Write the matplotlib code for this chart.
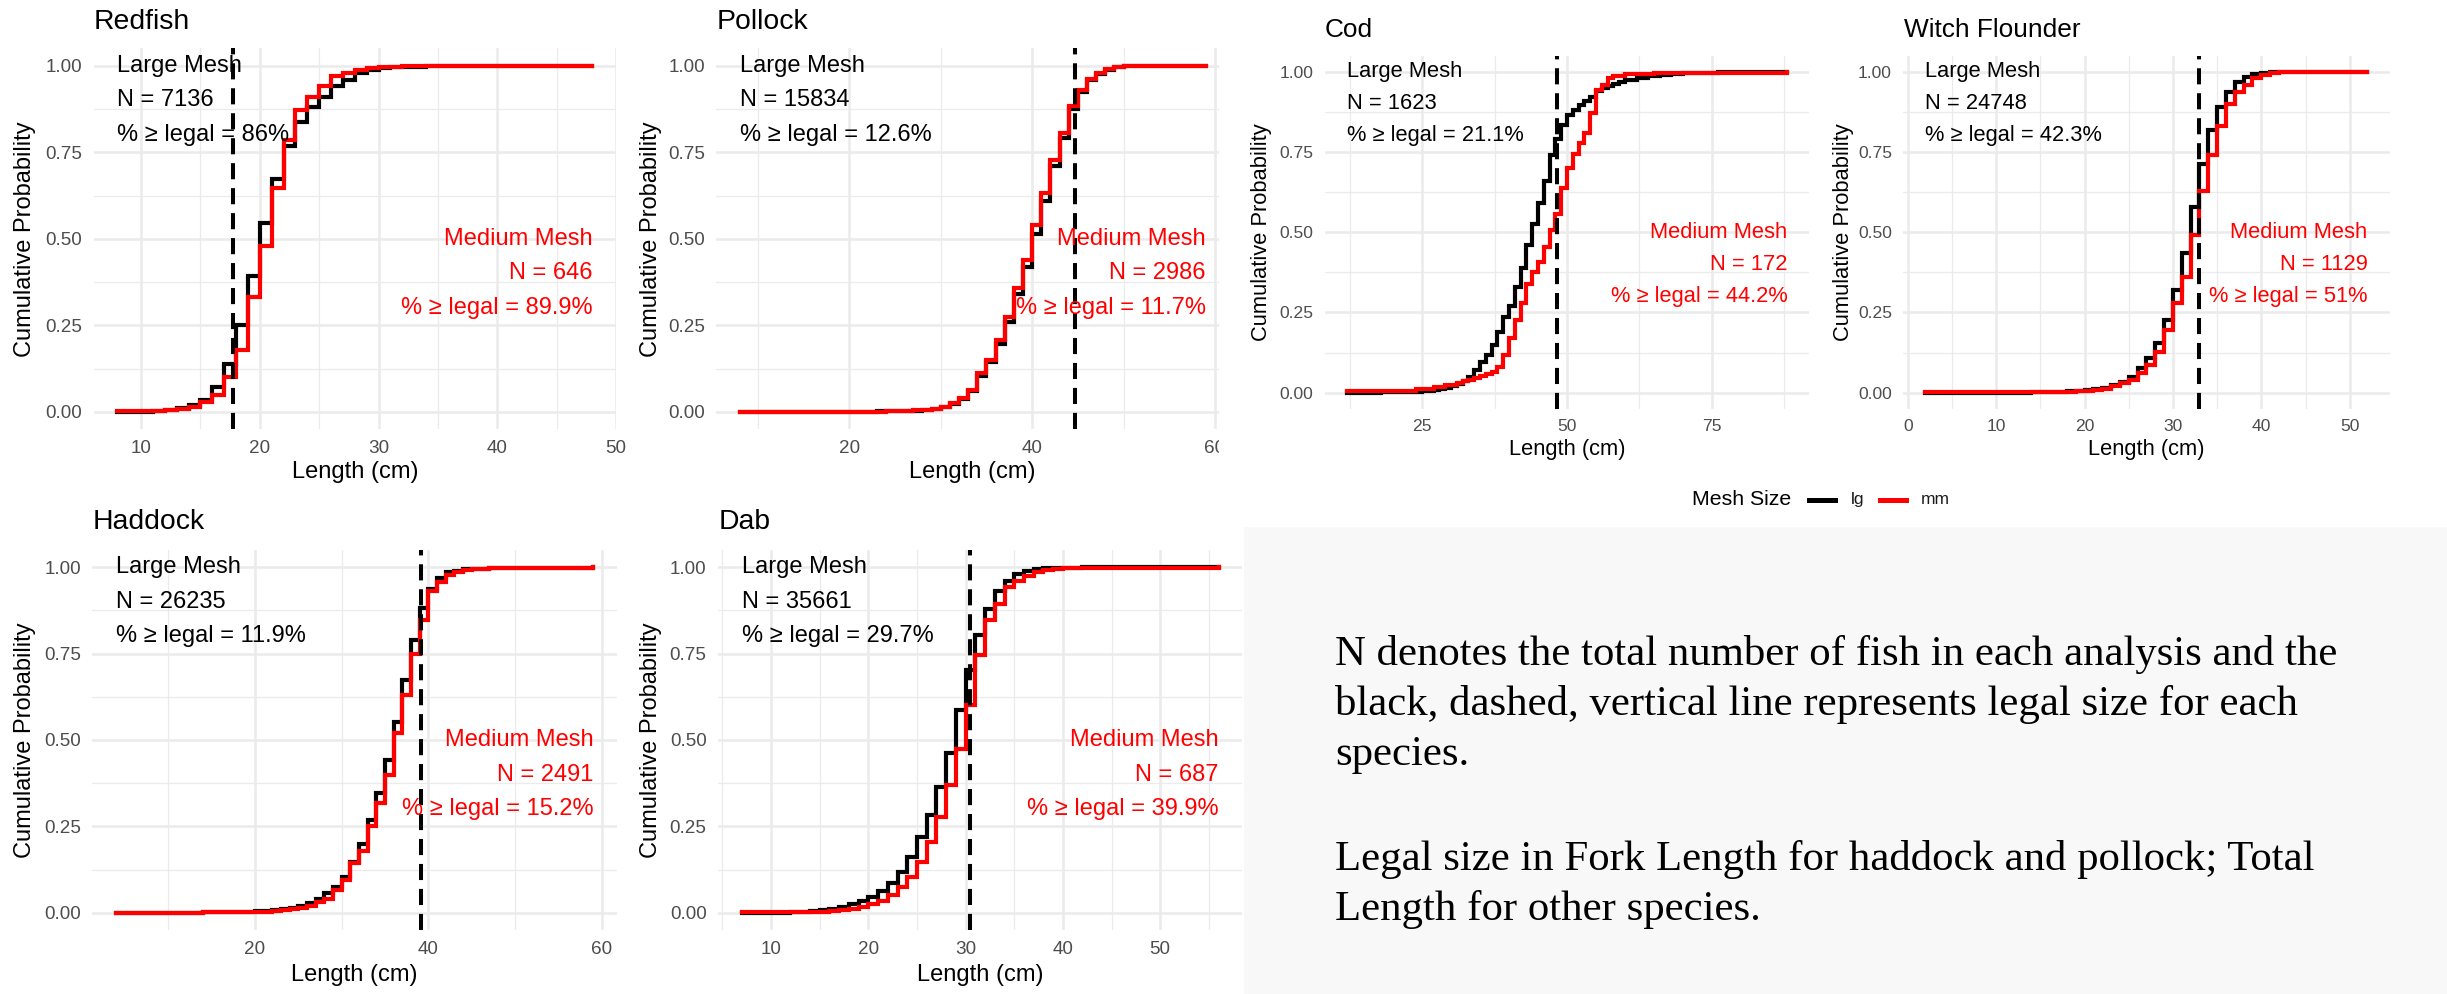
import numpy as np
import matplotlib
matplotlib.use('Agg')
import matplotlib.pyplot as plt
from matplotlib.patches import Rectangle
from matplotlib.lines import Line2D

plt.rcParams['font.family'] = ['Liberation Sans', 'DejaVu Sans']

# ECDF steps: length (cm) and cumulative probability
redfish_lg_len = [8, 10, 11, 12, 13, 14, 15, 16, 17, 18, 19, 20, 21, 22, 23, 24, 25, 26, 27, 28, 29, 30, 31, 32, 34, 36, 40, 48]
redfish_lg_cum = [0.0005, 0.001, 0.003, 0.006, 0.012, 0.02, 0.035, 0.073, 0.14, 0.25, 0.393, 0.545, 0.672, 0.768, 0.838,
                  0.882, 0.91, 0.94, 0.96, 0.978, 0.987, 0.992, 0.995, 0.997, 0.998, 0.999, 0.9995, 1.0]
redfish_mm_len = [8, 11, 12, 13, 14, 15, 16, 17, 18, 19, 20, 21, 22, 23, 24, 25, 26, 27, 28, 29, 30, 32, 48]
redfish_mm_cum = [0.0015, 0.003, 0.005, 0.008, 0.015, 0.03, 0.05, 0.101, 0.179, 0.333, 0.479, 0.646, 0.785, 0.872,
                  0.91, 0.94, 0.97, 0.98, 0.988, 0.994, 0.997, 0.9985, 1.0]

pollock_lg_len = [8, 15, 20, 23, 25, 26, 27, 28, 29, 30, 31, 32, 33, 34, 35, 36, 37, 38, 39, 40, 41, 42, 43, 44, 45, 46,
                  47, 48, 49, 50, 52, 55, 59]
pollock_lg_cum = [0.0001, 0.0005, 0.001, 0.0015, 0.002, 0.003, 0.004, 0.006, 0.009, 0.014, 0.022, 0.037, 0.06, 0.105,
                  0.145, 0.195, 0.26, 0.34, 0.42, 0.515, 0.61, 0.71, 0.79, 0.874, 0.925, 0.96, 0.976, 0.988, 0.995,
                  0.998, 0.999, 0.9995, 1.0]
pollock_mm_len = [8, 20, 24, 26, 27, 28, 29, 30, 31, 32, 33, 34, 35, 36, 37, 38, 39, 40, 41, 42, 43, 44, 45, 46, 47, 48,
                  49, 50, 52, 59]
pollock_mm_cum = [0.0003, 0.001, 0.002, 0.003, 0.005, 0.007, 0.01, 0.015, 0.025, 0.039, 0.064, 0.112, 0.15, 0.208,
                  0.275, 0.357, 0.439, 0.54, 0.631, 0.728, 0.805, 0.883, 0.93, 0.963, 0.978, 0.99, 0.997, 0.999,
                  0.9995, 1.0]

cod_lg_len = [12, 18, 22, 24, 25, 26, 27, 28, 29, 30, 31, 32, 33, 34, 35, 36, 37, 38, 39, 40, 41, 42, 43, 44, 45, 46, 47,
              48, 49, 50, 51, 52, 53, 54, 55, 56, 57, 58, 59, 60, 62, 64, 66, 68, 70, 73, 76, 80, 88]
cod_lg_cum = [0.0006, 0.001, 0.002, 0.003, 0.004, 0.005, 0.007, 0.01, 0.014, 0.02, 0.028, 0.038, 0.05, 0.07, 0.095,
              0.117, 0.15, 0.19, 0.235, 0.27, 0.33, 0.39, 0.46, 0.527, 0.59, 0.66, 0.74, 0.789, 0.835, 0.865, 0.88,
              0.896, 0.91, 0.92, 0.94, 0.95, 0.957, 0.963, 0.968, 0.973, 0.98, 0.986, 0.99, 0.993, 0.995, 0.997, 0.998,
              0.999, 1.0]
cod_mm_len = [12, 24, 27, 29, 31, 32, 33, 34, 35, 36, 37, 38, 39, 40, 41, 42, 43, 44, 45, 46, 47, 48, 49, 50, 51, 52, 53,
              54, 55, 56, 57, 58, 60, 65, 88]
cod_mm_cum = [0.006, 0.012, 0.017, 0.023, 0.029, 0.035, 0.041, 0.047, 0.052, 0.058, 0.064, 0.081, 0.117, 0.17, 0.226,
              0.28, 0.34, 0.377, 0.408, 0.455, 0.507, 0.558, 0.637, 0.70, 0.745, 0.777, 0.81, 0.87, 0.943, 0.96, 0.98,
              0.988, 0.994, 0.997, 1.0]

witch_lg_len = [2, 8, 12, 14, 15, 16, 17, 18, 19, 20, 21, 22, 23, 24, 25, 26, 27, 28, 29, 30, 31, 32, 33, 34, 35, 36, 37,
                38, 39, 40, 41, 42, 44, 47, 52]
witch_lg_cum = [0.0001, 0.0003, 0.0006, 0.001, 0.0015, 0.002, 0.003, 0.004, 0.006, 0.008, 0.011, 0.016, 0.024, 0.034,
                0.05, 0.076, 0.107, 0.154, 0.226, 0.32, 0.434, 0.577, 0.714, 0.818, 0.89, 0.938, 0.969, 0.984, 0.992,
                0.996, 0.998, 0.999, 0.9995, 0.9998, 1.0]
witch_mm_len = [2, 12, 15, 17, 18, 19, 20, 21, 22, 23, 24, 25, 26, 27, 28, 29, 30, 31, 32, 33, 34, 35, 36, 37, 38, 39, 40,
                41, 42, 44, 52]
witch_mm_cum = [0.0009, 0.001, 0.0015, 0.002, 0.003, 0.004, 0.006, 0.009, 0.013, 0.02, 0.03, 0.04, 0.06, 0.086, 0.128,
                0.195, 0.278, 0.36, 0.49, 0.628, 0.74, 0.83, 0.90, 0.938, 0.958, 0.98, 0.99, 0.995, 0.998, 0.999, 1.0]

haddock_lg_len = [4, 10, 14, 17, 19, 20, 21, 22, 23, 24, 25, 26, 27, 28, 29, 30, 31, 32, 33, 34, 35, 36, 37, 38, 39, 40,
                  41, 42, 43, 44, 45, 47, 50, 59]
haddock_lg_cum = [0.0001, 0.0005, 0.001, 0.002, 0.003, 0.004, 0.005, 0.007, 0.01, 0.014, 0.02, 0.029, 0.041, 0.056,
                  0.075, 0.104, 0.148, 0.20, 0.268, 0.346, 0.442, 0.553, 0.674, 0.79, 0.881, 0.936, 0.968, 0.985, 0.99,
                  0.994, 0.996, 0.998, 0.999, 1.0]
haddock_mm_len = [4, 14, 18, 21, 22, 23, 24, 25, 26, 27, 28, 29, 30, 31, 32, 33, 34, 35, 36, 37, 38, 39, 40, 41, 42, 43,
                  44, 45, 47, 50, 59]
haddock_mm_cum = [0.0004, 0.001, 0.002, 0.003, 0.005, 0.007, 0.01, 0.014, 0.02, 0.03, 0.04, 0.066, 0.095, 0.143, 0.18,
                  0.25, 0.317, 0.40, 0.52, 0.63, 0.75, 0.848, 0.93, 0.958, 0.978, 0.987, 0.992, 0.995, 0.998, 0.999,
                  1.0]

dab_lg_len = [7, 10, 12, 13, 14, 15, 16, 17, 18, 19, 20, 21, 22, 23, 24, 25, 26, 27, 28, 29, 30, 31, 32, 33, 34, 35, 36,
              37, 38, 39, 40, 42, 45, 56]
dab_lg_cum = [0.0001, 0.0005, 0.001, 0.002, 0.004, 0.007, 0.01, 0.016, 0.024, 0.035, 0.046, 0.064, 0.085, 0.119, 0.16,
              0.218, 0.283, 0.363, 0.461, 0.587, 0.703, 0.804, 0.878, 0.93, 0.961, 0.981, 0.99, 0.994, 0.997, 0.998,
              0.999, 0.9995, 0.9998, 1.0]
dab_mm_len = [7, 12, 14, 16, 17, 18, 19, 20, 21, 22, 23, 24, 25, 26, 27, 28, 29, 30, 31, 32, 33, 34, 35, 36, 37, 38, 39,
              40, 42, 56]
dab_mm_cum = [0.0015, 0.002, 0.003, 0.005, 0.008, 0.012, 0.017, 0.025, 0.035, 0.051, 0.075, 0.104, 0.148, 0.206, 0.278,
              0.37, 0.473, 0.601, 0.746, 0.846, 0.894, 0.942, 0.96, 0.976, 0.986, 0.992, 0.996, 0.998, 0.999, 1.0]

species = ['Redfish', 'Pollock', 'Cod', 'Witch Flounder', 'Haddock', 'Dab']
legal_size = [17.78, 44.7, 48.26, 33.0, 39.2, 30.48]
n_lg = [7136, 15834, 1623, 24748, 26235, 35661]
n_mm = [646, 2986, 172, 1129, 2491, 687]
pct_lg = ['86%', '12.6%', '21.1%', '42.3%', '11.9%', '29.7%']
pct_mm = ['89.9%', '11.7%', '44.2%', '51%', '15.2%', '39.9%']
x_breaks = [[10, 20, 30, 40, 50], [20, 40, 60], [25, 50, 75], [0, 10, 20, 30, 40, 50], [20, 40, 60],
            [10, 20, 30, 40, 50]]
y_breaks = [0, 0.25, 0.5, 0.75, 1.0]

curves = [(redfish_lg_len, redfish_lg_cum, redfish_mm_len, redfish_mm_cum),
          (pollock_lg_len, pollock_lg_cum, pollock_mm_len, pollock_mm_cum),
          (cod_lg_len, cod_lg_cum, cod_mm_len, cod_mm_cum),
          (witch_lg_len, witch_lg_cum, witch_mm_len, witch_mm_cum),
          (haddock_lg_len, haddock_lg_cum, haddock_mm_len, haddock_mm_cum),
          (dab_lg_len, dab_lg_cum, dab_mm_len, dab_mm_cum)]

note_lines = ['N denotes the total number of fish in each analysis and the',
              'black, dashed, vertical line represents legal size for each',
              'species.',
              'Legal size in Fork Length for haddock and pollock; Total',
              'Length for other species.']

# layout in pixels: panel box (left, right, top, bottom), title y, ylabel x, xlabel y, font scale
W, H = 2447, 994
layout = [
    dict(box=(93.5, 616.2, 48.4, 429.3), ty=21.7, ylx=25, xly=472, s=1.0),
    dict(box=(716.2, 1229.2, 48.4, 429.3), ty=21.7, ylx=650.6, xly=472, s=1.0),
    dict(box=(1324.6, 1809.4, 55.65, 408.75), ty=30, ylx=1262, xly=450, s=0.925),
    dict(box=(1903.3, 2389.5, 55.65, 408.75), ty=30, ylx=1844, xly=450, s=0.925),
    dict(box=(92.3, 617.1, 550, 930), ty=521.7, ylx=25.3, xly=975, s=1.0),
    dict(box=(718.0, 1242.4, 550, 930), ty=521.7, ylx=650.6, xly=975, s=1.0),
]

fig = plt.figure(figsize=(W / 100, H / 100), dpi=100)
fig.patch.set_facecolor('white')

# grey note area
fig.add_artist(Rectangle((1244 / W, 0), (W - 1244) / W, (H - 527) / H, transform=fig.transFigure,
                         facecolor='#f8f8f8', edgecolor='none', zorder=-1))

for i, name in enumerate(species):
    lay = layout[i]
    x0, x1, yt, yb = lay['box']
    s = lay['s']
    ax = fig.add_axes([x0 / W, 1 - yb / H, (x1 - x0) / W, (yb - yt) / H])
    lg_len, lg_cum, mm_len, mm_cum = curves[i]
    lo = min(lg_len[0], mm_len[0])
    hi = max(lg_len[-1], mm_len[-1])
    pad = 0.05 * (hi - lo)
    ax.set_xlim(lo - pad, hi + pad)
    ax.set_ylim(-0.05, 1.05)

    ax.step(lg_len, lg_cum, where='post', color='black', lw=3.0, solid_joinstyle='miter', zorder=3)
    ax.step(mm_len, mm_cum, where='post', color='#ff0000', lw=3.0, solid_joinstyle='miter', zorder=4)
    ax.axvline(legal_size[i], color='black', lw=2.9, linestyle=(0, (4, 2.2)), zorder=5)

    xb = x_breaks[i]
    step = xb[1] - xb[0]
    minor_x = [b + step / 2 for b in [xb[0] - step] + xb]
    ax.set_xticks(xb)
    ax.set_xticks([m for m in minor_x if lo - pad <= m <= hi + pad], minor=True)
    ax.set_yticks(y_breaks)
    ax.set_yticks([0.125, 0.375, 0.625, 0.875], minor=True)
    ax.set_yticklabels(['%.2f' % v for v in y_breaks])
    ax.tick_params(which='both', length=0, labelsize=13.6 * s, labelcolor='#4d4d4d')
    ax.tick_params(axis='x', pad=7.7)
    ax.tick_params(axis='y', pad=8.2)
    ax.grid(which='major', color='#ebebeb', lw=1.8)
    ax.grid(which='minor', color='#ebebeb', lw=0.9)
    ax.set_axisbelow(True)
    for sp in ax.spines.values():
        sp.set_visible(False)

    ax.set_xlabel('Length (cm)', fontsize=17 * s)
    ax.set_ylabel('Cumulative Probability', fontsize=17 * s)
    ax.xaxis.set_label_coords(0.5, -(lay['xly'] - yb) / (yb - yt))
    ax.xaxis.label.set_va('center')
    ax.yaxis.set_label_coords((lay['ylx'] - x0) / (x1 - x0), 0.5)
    ax.yaxis.label.set_va('center')

    ax.text((x0 + 0.5 - x0) / (x1 - x0), 1 + (yt - lay['ty']) / (yb - yt), name, transform=ax.transAxes,
            ha='left', va='center', fontsize=20.4 * s, color='black')

    fs = 17 * s
    ax.text(lo, 1.0, 'Large Mesh', ha='left', va='center', fontsize=fs, zorder=6)
    ax.text(lo, 0.9, 'N = %d' % n_lg[i], ha='left', va='center', fontsize=fs, zorder=6)
    ax.text(lo, 0.8, '% \u2265 legal = ' + pct_lg[i], ha='left', va='center', fontsize=fs, zorder=6)
    ax.text(hi, 0.5, 'Medium Mesh', ha='right', va='center', fontsize=fs, color='#ff0000', zorder=6)
    ax.text(hi, 0.4, 'N = %d' % n_mm[i], ha='right', va='center', fontsize=fs, color='#ff0000', zorder=6)
    ax.text(hi, 0.3, '% \u2265 legal = ' + pct_mm[i], ha='right', va='center', fontsize=fs, color='#ff0000',
            zorder=6)

# the pollock panel is cropped on its right side
fig.add_artist(Rectangle((1219 / W, 1 - 485 / H), (1249 - 1219) / W, 485 / H, transform=fig.transFigure,
                         facecolor='white', edgecolor='none', zorder=10))

# legend
ly = 1 - 500 / H
fig.text(1692 / W, ly, 'Mesh Size', ha='left', va='center', fontsize=15.3)
fig.add_artist(Line2D([1809 / W, 1835 / W], [ly, ly], color='black', lw=3.6, transform=fig.transFigure))
fig.text(1851 / W, ly, 'lg', ha='left', va='center', fontsize=12.5, color='#1a1a1a')
fig.add_artist(Line2D([1880 / W, 1906 / W], [ly, ly], color='#ff0000', lw=3.6, transform=fig.transFigure))
fig.text(1921 / W, ly, 'mm', ha='left', va='center', fontsize=12.5, color='#1a1a1a')

# note text
baselines = [665, 715, 765, 870, 920]
for line, yb_ in zip(note_lines, baselines):
    fig.text(1335 / W, 1 - yb_ / H, line, ha='left', va='baseline', fontsize=30.8,
             family=['Liberation Serif', 'DejaVu Serif'], color='black')

fig.savefig('out.png', dpi=100)
